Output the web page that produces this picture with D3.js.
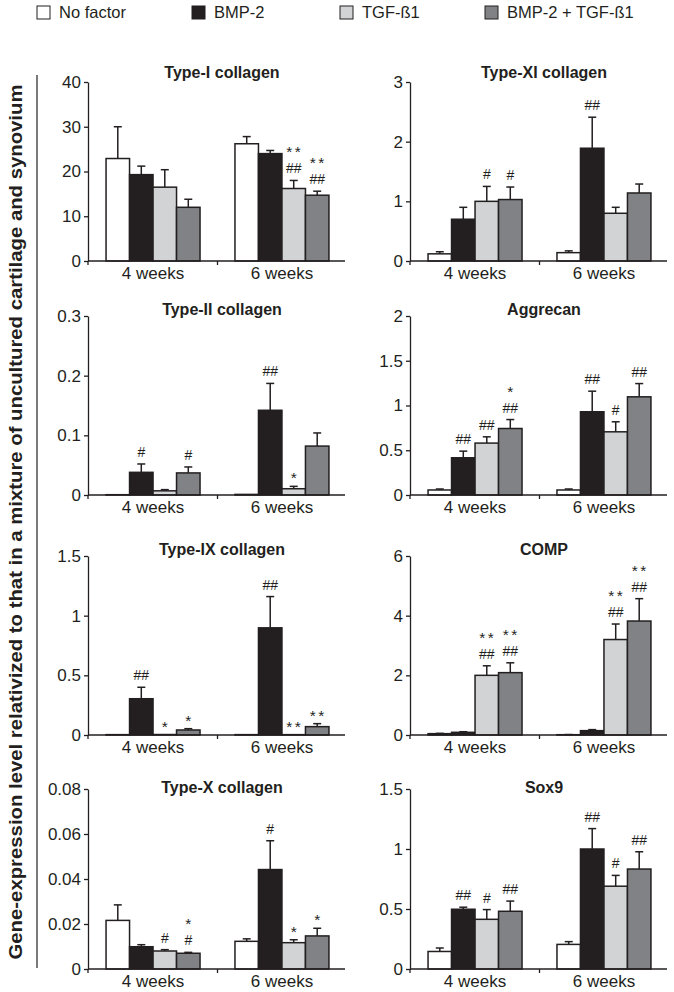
<html>
  <head>
    <meta charset="utf-8" />
    <script src="https://d3js.org/d3.v7.min.js"></script>
  </head>
  <style>
    body { margin: 0; background: #fff; }
    svg { display: block; font-family: "Liberation Sans", Arial, sans-serif; }
  </style>
  <body>
    <div id="viz"><svg></svg></div>
    <script>
      // groups and series
      var categories = ["4 weeks", "6 weeks"];
      var series = ["No factor", "BMP-2", "TGF-ß1", "BMP-2 + TGF-ß1"];
      var colors = ["#ffffff", "#231f20", "#d1d3d4", "#808285"];

      var titles = ["Type-I collagen", "Type-XI collagen", "Type-II collagen", "Aggrecan",
                    "Type-IX collagen", "COMP", "Type-X collagen", "Sox9"];
      var yMaxes = [40, 3, 0.3, 2, 1.5, 6, 0.08, 1.5];
      var yTicks = [[0, 10, 20, 30, 40], [0, 1, 2, 3], [0, 0.1, 0.2, 0.3], [0, 0.5, 1, 1.5, 2],
                    [0, 0.5, 1, 1.5], [0, 2, 4, 6], [0, 0.02, 0.04, 0.06, 0.08], [0, 0.5, 1, 1.5]];

      // mean values [4 weeks, 6 weeks], one value per series
      var typeIMeans = [[22.9, 19.3, 16.5, 12.0], [26.2, 24.0, 16.2, 14.7]];
      var typeXIMeans = [[0.12, 0.70, 1.0, 1.03], [0.14, 1.89, 0.80, 1.14]];
      var typeIIMeans = [[0.0005, 0.038, 0.007, 0.037], [0.001, 0.142, 0.0105, 0.082]];
      var aggrecanMeans = [[0.056, 0.416, 0.58, 0.743], [0.056, 0.93, 0.706, 1.097]];
      var typeIXMeans = [[0.003, 0.304, 0.004, 0.042], [0.003, 0.898, 0.003, 0.07]];
      var compMeans = [[0.045, 0.09, 2.0, 2.09], [0.01, 0.146, 3.2, 3.82]];
      var typeXMeans = [[0.0216, 0.0099, 0.008, 0.007], [0.0123, 0.0442, 0.0117, 0.0147]];
      var sox9Means = [[0.146, 0.498, 0.414, 0.481], [0.205, 1.0, 0.69, 0.833]];

      // upper error (SD)
      var typeISd = [[7.1, 1.9, 3.9, 1.8], [1.6, 0.7, 1.8, 0.9]];
      var typeXISd = [[0.035, 0.2, 0.25, 0.21], [0.03, 0.52, 0.1, 0.15]];
      var typeIISd = [[0, 0.014, 0.002, 0.01], [0, 0.045, 0.004, 0.022]];
      var aggrecanSd = [[0.011, 0.074, 0.07, 0.1], [0.011, 0.23, 0.112, 0.148]];
      var typeIXSd = [[0, 0.096, 0, 0.011], [0, 0.262, 0, 0.025]];
      var compSd = [[0.01, 0.02, 0.32, 0.33], [0.005, 0.034, 0.52, 0.75]];
      var typeXSd = [[0.0069, 0.0009, 0.0006, 0.0004], [0.0011, 0.0128, 0.0013, 0.0034]];
      var sox9Sd = [[0.029, 0.017, 0.081, 0.085], [0.023, 0.17, 0.09, 0.144]];

      // significance marks, lines from top to bottom split by "/"
      var typeISig = [["", "", "", ""], ["", "", "**/##", "**/##"]];
      var typeXISig = [["", "", "#", "#"], ["", "##", "", ""]];
      var typeIISig = [["", "#", "", "#"], ["", "##", "*", ""]];
      var aggrecanSig = [["", "##", "##", "*/##"], ["", "##", "#", "##"]];
      var typeIXSig = [["", "##", "*", "*"], ["", "##", "**", "**"]];
      var compSig = [["", "", "**/##", "**/##"], ["", "", "**/##", "**/##"]];
      var typeXSig = [["", "", "#", "*/#"], ["", "#", "*", "*"]];
      var sox9Sig = [["", "##", "#", "##"], ["", "##", "#", "##"]];

      var allMeans = [typeIMeans, typeXIMeans, typeIIMeans, aggrecanMeans, typeIXMeans, compMeans, typeXMeans, sox9Means];
      var allSd = [typeISd, typeXISd, typeIISd, aggrecanSd, typeIXSd, compSd, typeXSd, sox9Sd];
      var allSig = [typeISig, typeXISig, typeIISig, aggrecanSig, typeIXSig, compSig, typeXSig, sox9Sig];

      // layout
      var colX = [88, 410];
      var rowTop = [82, 316, 556, 789];
      var rowZero = [261, 495, 735, 969];
      var titleY = [78, 315, 555, 793];
      var ink = "#231f20";

      var svg = d3.select("svg").attr("width", 674).attr("height", 992);

      // legend
      var legX = [37, 192, 340, 485];
      var leg = svg.selectAll("g.leg").data(series).enter().append("g")
        .attr("transform", function (d, i) { return "translate(" + legX[i] + ",6)"; });
      leg.append("rect").attr("width", 13).attr("height", 13)
        .attr("fill", function (d, i) { return colors[i]; })
        .attr("stroke", ink).attr("stroke-width", 1);
      leg.append("text").attr("x", 22).attr("y", 12).text(function (d) { return d; })
        .style("font-size", "16.5px").attr("fill", ink);

      // y label + divider
      svg.append("line").attr("x1", 37).attr("x2", 37).attr("y1", 75).attr("y2", 968)
        .attr("stroke", ink).attr("stroke-width", 1.2);
      svg.append("text")
        .attr("transform", "translate(22,522) rotate(-90)")
        .attr("text-anchor", "middle")
        .attr("textLength", 875).attr("lengthAdjust", "spacingAndGlyphs")
        .style("font-size", "19px").style("font-weight", "bold").attr("fill", ink)
        .text("Gene-expression level relativized to that in a mixture of uncultured cartilage and synovium");

      titles.forEach(function (title, p) {
        var col = p % 2, row = Math.floor(p / 2);
        var ax = colX[col];
        var g = svg.append("g");

        var x = d3.scaleBand().domain(categories).range([ax, ax + 259])
          .paddingInner(0.271).paddingOuter(0.14);
        var xs = d3.scaleBand().domain(series).range([0, x.bandwidth()]);
        var y = d3.scaleLinear().domain([0, yMaxes[p]]).range([rowZero[row], rowTop[row]]);

        var groups = g.selectAll("g.grp").data(categories).enter().append("g")
          .attr("transform", function (d) { return "translate(" + x(d) + ",0)"; });

        groups.each(function (cat, ci) {
          var gg = d3.select(this);
          var rows = series.map(function (s, si) {
            return { s: s, si: si, v: allMeans[p][ci][si], sd: allSd[p][ci][si], sig: allSig[p][ci][si] };
          });

          // error bars (upper only)
          var eb = rows.filter(function (d) { return d.sd > 0; });
          gg.selectAll("line.err").data(eb).enter().append("line")
            .attr("x1", function (d) { return xs(d.s) + xs.bandwidth() / 2; })
            .attr("x2", function (d) { return xs(d.s) + xs.bandwidth() / 2; })
            .attr("y1", function (d) { return y(d.v); })
            .attr("y2", function (d) { return y(d.v + d.sd); })
            .attr("stroke", ink).attr("stroke-width", 1.5);
          gg.selectAll("line.cap").data(eb).enter().append("line")
            .attr("x1", function (d) { return xs(d.s) + xs.bandwidth() / 2 - 4; })
            .attr("x2", function (d) { return xs(d.s) + xs.bandwidth() / 2 + 4; })
            .attr("y1", function (d) { return y(d.v + d.sd); })
            .attr("y2", function (d) { return y(d.v + d.sd); })
            .attr("stroke", ink).attr("stroke-width", 1.5);

          gg.selectAll("rect").data(rows).enter().append("rect")
            .attr("x", function (d) { return xs(d.s); })
            .attr("width", xs.bandwidth())
            .attr("y", function (d) { return y(d.v); })
            .attr("height", function (d) { return y(0) - y(d.v); })
            .attr("fill", function (d) { return colors[d.si]; })
            .attr("stroke", ink).attr("stroke-width", 1.5);

          // significance marks, stacked bottom-up
          rows.forEach(function (d) {
            if (!d.sig) return;
            var lines = d.sig.split("/").reverse();
            var base = y(d.v + d.sd);
            var cx = xs(d.s) + xs.bandwidth() / 2;
            var t = gg.append("text").attr("text-anchor", "middle").attr("fill", ink);
            lines.forEach(function (ln, k) {
              var star = ln.charAt(0) === "*";
              var by = (k === 0) ? base - (star ? 3 : 7) : base - 7 - 16 * k;
              t.append("tspan").attr("x", cx + (star && ln.length > 1 ? 1 : 0)).attr("y", by)
                .style("font-size", star ? "15.5px" : "14px")
                .style("letter-spacing", star && ln.length > 1 ? "2.5px" : "0px")
                .text(ln);
            });
          });
        });

        // y axis
        var yAxis = d3.axisLeft(y).tickValues(yTicks[p]).tickSize(4).tickSizeOuter(0)
          .tickPadding(3).tickFormat(function (d) { return String(d); });
        var ya = g.append("g").attr("transform", "translate(" + ax + ",0)").call(yAxis);
        ya.select(".domain").attr("stroke", ink).attr("stroke-width", 1.3);
        ya.selectAll(".tick line").attr("stroke", ink).attr("stroke-width", 1.3);
        ya.selectAll(".tick text").attr("fill", ink).style("font-size", "17px")
          .style("font-family", "Liberation Sans, Arial, sans-serif");

        // x axis
        var zero = y(0);
        g.append("line").attr("x1", ax).attr("x2", ax + 257).attr("y1", zero).attr("y2", zero)
          .attr("stroke", ink).attr("stroke-width", 1.3);
        var mid = (x(categories[0]) + x.bandwidth() + x(categories[1])) / 2;
        g.append("line").attr("x1", mid).attr("x2", mid).attr("y1", zero).attr("y2", zero + 4)
          .attr("stroke", ink).attr("stroke-width", 1.3);
        g.append("line").attr("x1", ax).attr("x2", ax).attr("y1", zero).attr("y2", zero + 4)
          .attr("stroke", ink).attr("stroke-width", 1.3);
        g.selectAll("text.cat").data(categories).enter().append("text")
          .attr("x", function (d) { return x(d) + x.bandwidth() / 2; })
          .attr("y", zero + 18)
          .attr("text-anchor", "middle").attr("fill", ink)
          .style("font-size", "17px")
          .text(function (d) { return d; });

        // title
        g.append("text").attr("x", ax + 134).attr("y", titleY[row])
          .attr("text-anchor", "middle").attr("fill", ink)
          .style("font-size", "16px").style("font-weight", "bold")
          .text(title);
      });
    </script>
  </body>
</html>
